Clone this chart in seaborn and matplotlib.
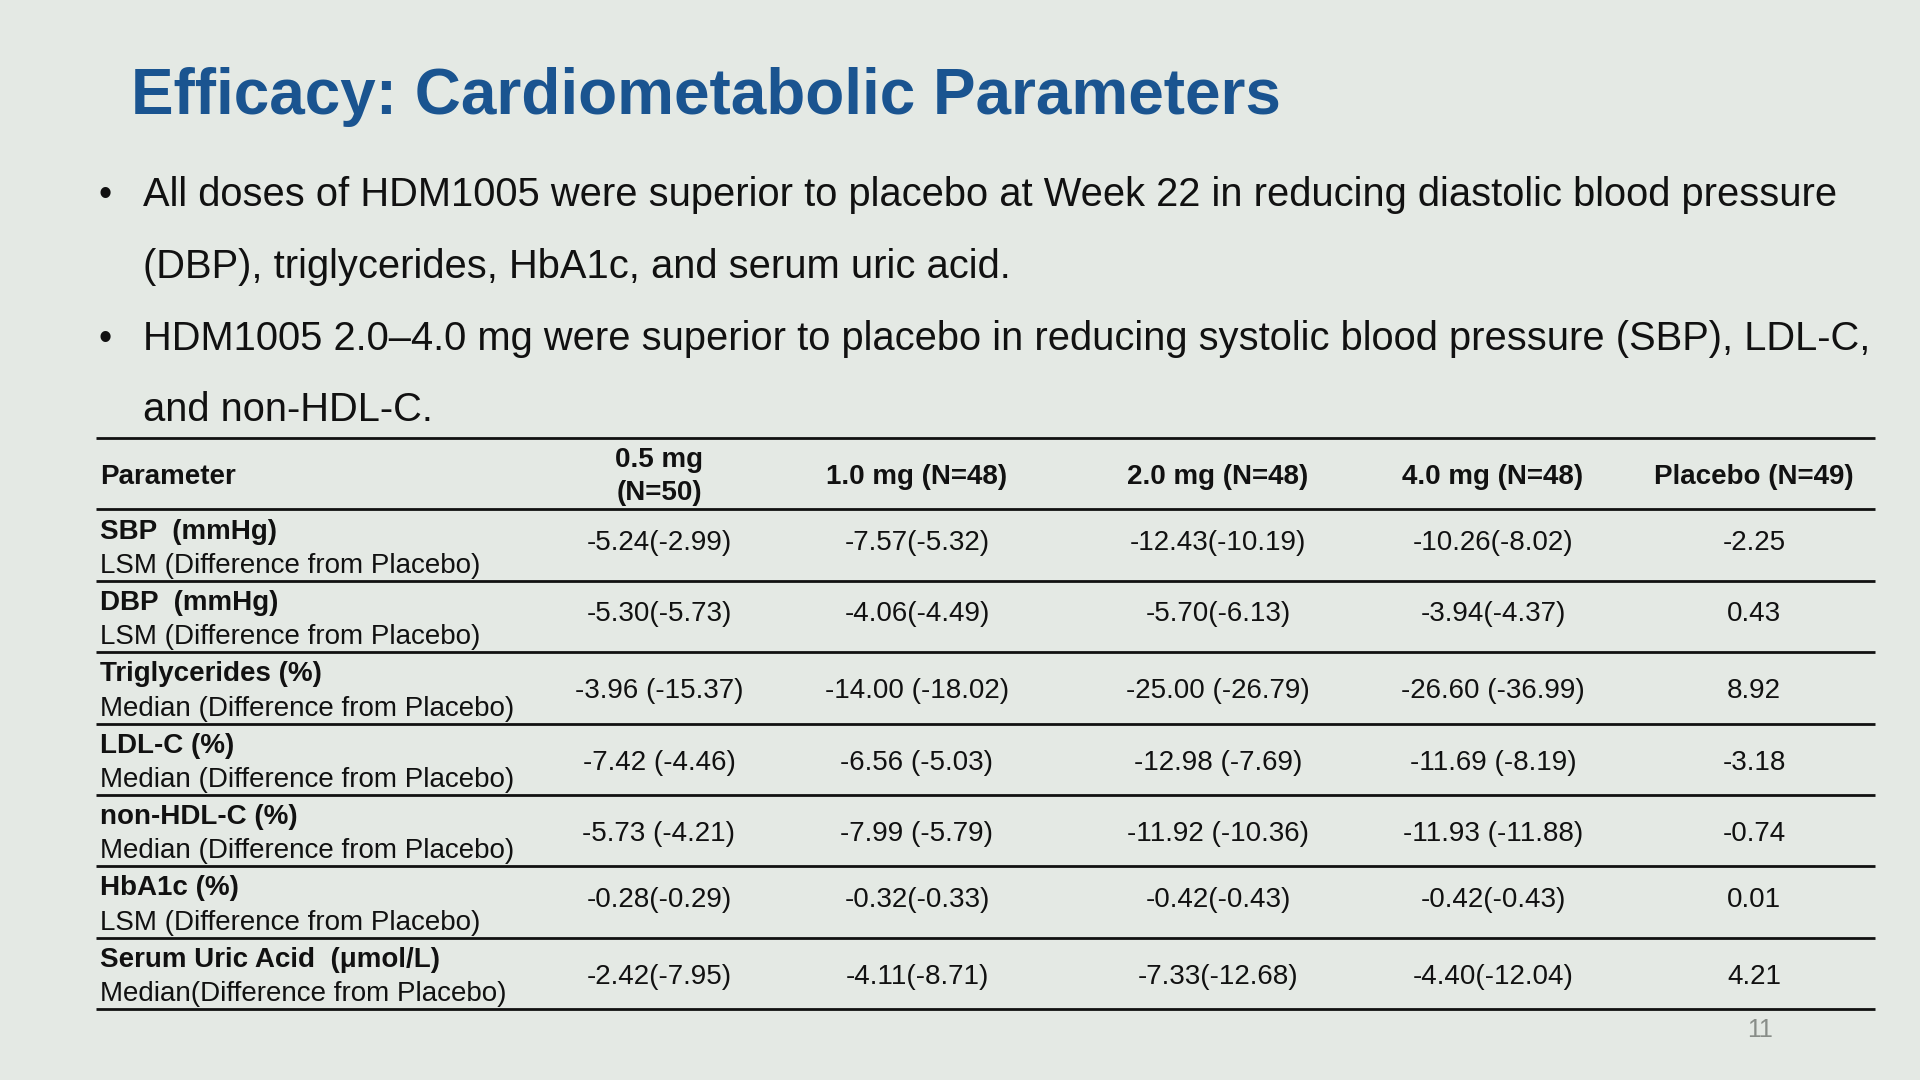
"""
Efficacy: Cardiometabolic Parameters
-------------------------------------
Slide-style summary table of LSM / median changes at Week 22
for each HDM1005 dose versus placebo.
"""

import matplotlib.pyplot as plt
import seaborn as sns

# --- Slide text ---
title = "Efficacy: Cardiometabolic Parameters"
bullet_lines = [
    ("•", "All doses of HDM1005 were superior to placebo at Week 22 in reducing diastolic blood pressure"),
    ("", "(DBP), triglycerides, HbA1c, and serum uric acid."),
    ("•", "HDM1005 2.0–4.0 mg were superior to placebo in reducing systolic blood pressure (SBP), LDL-C,"),
    ("", "and non-HDL-C."),
]
page_number = "11"

# --- Table data ---
columns = ["Parameter", "0.5 mg\n(N=50)", "1.0 mg (N=48)", "2.0 mg (N=48)",
           "4.0 mg (N=48)", "Placebo (N=49)"]
parameters = ["SBP  (mmHg)", "DBP  (mmHg)", "Triglycerides (%)", "LDL-C (%)",
              "non-HDL-C (%)", "HbA1c (%)", "Serum Uric Acid  (μmol/L)"]
statistics = ["LSM (Difference from Placebo)", "LSM (Difference from Placebo)",
              "Median (Difference from Placebo)", "Median (Difference from Placebo)",
              "Median (Difference from Placebo)", "LSM (Difference from Placebo)",
              "Median(Difference from Placebo)"]
dose_05 = ["-5.24(-2.99)", "-5.30(-5.73)", "-3.96 (-15.37)", "-7.42 (-4.46)",
           "-5.73 (-4.21)", "-0.28(-0.29)", "-2.42(-7.95)"]
dose_10 = ["-7.57(-5.32)", "-4.06(-4.49)", "-14.00 (-18.02)", "-6.56 (-5.03)",
           "-7.99 (-5.79)", "-0.32(-0.33)", "-4.11(-8.71)"]
dose_20 = ["-12.43(-10.19)", "-5.70(-6.13)", "-25.00 (-26.79)", "-12.98 (-7.69)",
           "-11.92 (-10.36)", "-0.42(-0.43)", "-7.33(-12.68)"]
dose_40 = ["-10.26(-8.02)", "-3.94(-4.37)", "-26.60 (-36.99)", "-11.69 (-8.19)",
           "-11.93 (-11.88)", "-0.42(-0.43)", "-4.40(-12.04)"]
placebo = ["-2.25", "0.43", "8.92", "-3.18", "-0.74", "0.01", "4.21"]

# --- Style ---
BG = "#E4E9E4"
TITLE_BLUE = "#1A5490"
INK = "#111111"

sns.set_theme(style="white", rc={"figure.facecolor": BG, "axes.facecolor": BG})
plt.rcParams["font.family"] = ["Liberation Sans", "DejaVu Sans"]

W, H = 1920, 1080
fig = plt.figure(figsize=(W / 100, H / 100), dpi=100)


def px(x, y):
    return x / W, 1 - y / H


# title and bullets
fig.text(*px(131, 114), title, fontsize=46, fontweight="bold",
         color=TITLE_BLUE, va="baseline")
for i, (mark, line) in enumerate(bullet_lines):
    base = 206 + i * 71.8
    if mark:
        fig.text(*px(98, base), mark, fontsize=27, color=INK, va="baseline")
    fig.text(*px(143, base), line, fontsize=28.7, color=INK, va="baseline")

fig.text(*px(1760, 1030), page_number, fontsize=18, color="#888D88",
         ha="center", va="center")

# table axes: x in slide pixels, y in row units (0 = top rule)
ax = fig.add_axes([96 / W, 1 - 1009 / H, (1875 - 96) / W, (1009 - 438) / H])
ax.set_xlim(96, 1875)
ax.set_ylim(len(parameters) + 1, 0)
ax.axis("off")

col_x = [100, 659, 917, 1218, 1493, 1754]
value_cols = [dose_05, dose_10, dose_20, dose_40, placebo]

ax.hlines(range(len(parameters) + 2), 96, 1875, color=INK, lw=2.0,
          clip_on=False)

# header
ax.text(col_x[0], 0.55, columns[0], fontsize=20, fontweight="bold",
        color=INK, ha="left", va="center")
for cx, label in zip(col_x[1:], columns[1:]):
    parts = label.split("\n")
    if len(parts) == 2:
        ax.text(cx, 0.31, parts[0], fontsize=20, fontweight="bold",
                color=INK, ha="center", va="center")
        ax.text(cx, 0.77, parts[1], fontsize=20, fontweight="bold",
                color=INK, ha="center", va="center")
    else:
        ax.text(cx, 0.55, label, fontsize=20, fontweight="bold",
                color=INK, ha="center", va="center")

# body rows
for r, (name, stat) in enumerate(zip(parameters, statistics)):
    top = r + 1
    ax.text(col_x[0], top + 0.31, name, fontsize=20, fontweight="bold",
            color=INK, ha="left", va="center")
    ax.text(col_x[0], top + 0.79, stat, fontsize=20, color=INK,
            ha="left", va="center")
    off = 0.47 if stat.startswith("LSM") else 0.55
    for cx, col in zip(col_x[1:], value_cols):
        ax.text(cx, top + off, col[r], fontsize=20, color=INK,
                ha="center", va="center")

fig.savefig("out.png", dpi=100, facecolor=BG)
